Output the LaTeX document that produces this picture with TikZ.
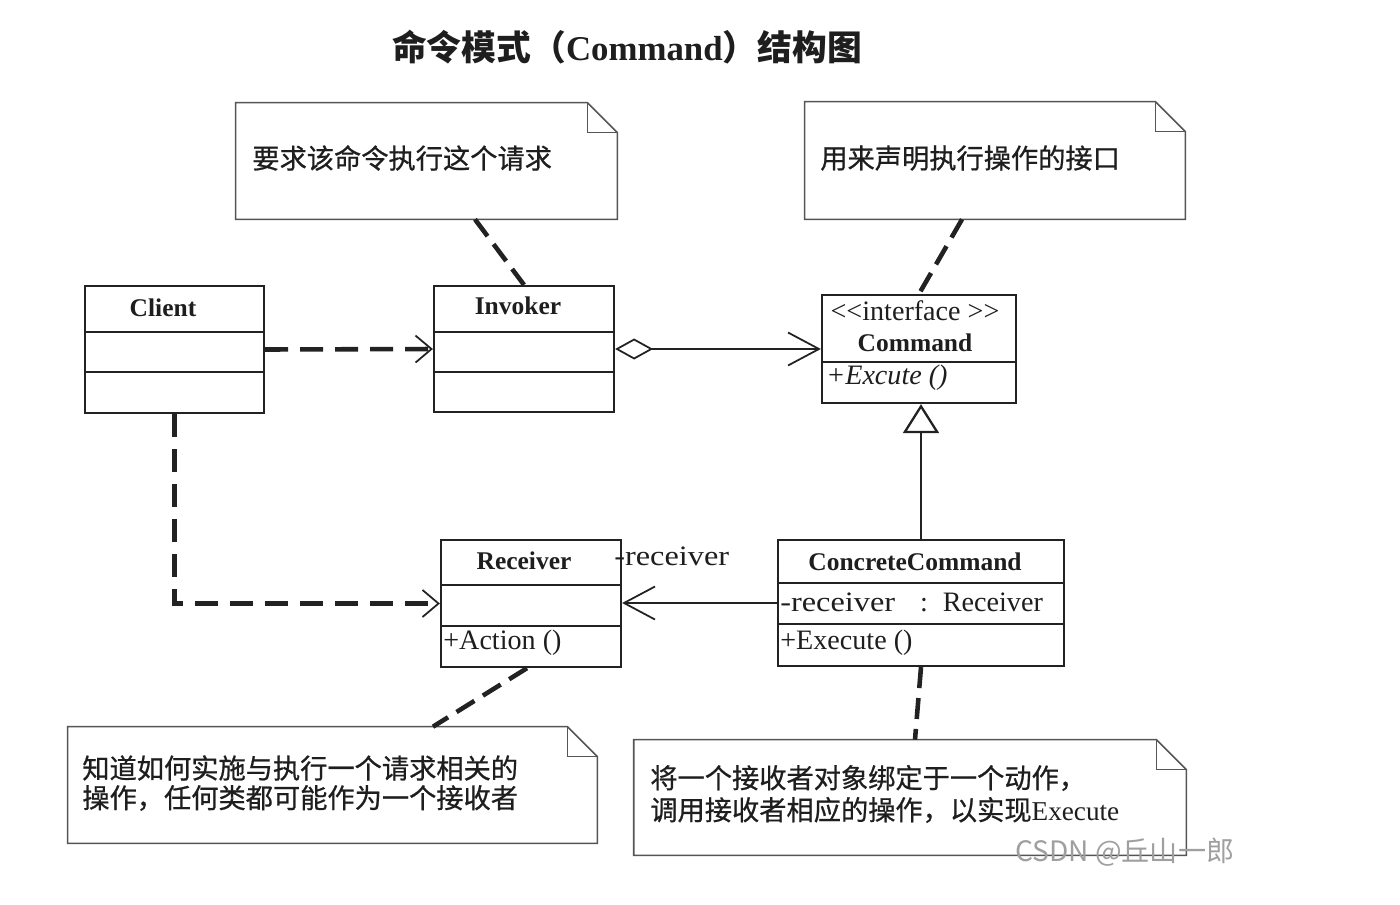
\documentclass[tikz,border=0pt]{standalone}
\usepackage{fontspec}
\setmainfont{Liberation Serif}
\newfontfamily\cjk{Noto Sans CJK SC}
\newfontfamily\cjkn{Noto Sans CJK SC}[FakeBold=0.7]
\usetikzlibrary{arrows.meta,calc}
\definecolor{linec}{HTML}{222222}
\definecolor{notec}{HTML}{555555}
\definecolor{txtc}{HTML}{1E1E1E}
\begin{document}
\begin{tikzpicture}[x=0.02cm,y=-0.02cm,
  cls/.style={draw=linec,line width=1.3pt,inner sep=0pt,fill=white},
  notebox/.style={inner sep=0pt},
  noteline/.style={draw=notec,line width=0.9pt,line join=miter},
  dep/.style={draw=linec,line width=2.6pt,dash pattern=on 0.46cm off 0.24cm},
  ann/.style={draw=linec,line width=2.6pt,dash pattern=on 0.42cm off 0.2cm},
  assoc/.style={draw=linec,line width=1pt},
  divl/.style={draw=linec,line width=1.3pt},
  cname/.style={font=\fontsize{14.5}{16}\selectfont\bfseries,text=txtc,inner sep=0pt},
  member/.style={font=\fontsize{16}{18}\selectfont,text=txtc,inner sep=0pt,anchor=west},
  ntext/.style={font=\fontsize{15.5}{18}\selectfont\cjkn,text=txtc,inner sep=0pt,anchor=west},
  openv/.tip={Straight Barb[length=0.32cm,width=0.54cm,line width=1pt]},
  bigv/.tip={Straight Barb[length=0.62cm,width=0.66cm,line width=1pt]},
  odiam/.tip={Diamond[open,fill=white,length=0.76cm,width=0.42cm,line width=1pt]},
  otri/.tip={Triangle[open,fill=white,length=0.58cm,width=0.72cm,line width=1.3pt]}
]
\useasboundingbox[fill=white] (0,0) rectangle (1400,904);

% title
\node[inner sep=0pt,text=txtc] (title) at (627,47)
  {\fontsize{19.8}{23}\selectfont\bfseries{\cjk 命令模式（}Command{\cjk ）结构图}};

% ---------- notes ----------
\node[notebox,minimum width=7.62cm,minimum height=2.32cm] (n1) at (426.5,161) {};
\node[notebox,minimum width=7.60cm,minimum height=2.34cm] (n2) at (995,160.5) {};
\node[notebox,minimum width=10.58cm,minimum height=2.32cm] (n3) at (332.5,785) {};
\node[notebox,minimum width=11.04cm,minimum height=2.30cm] (n4) at (910,797.5) {};
\foreach \n in {n1,n2,n3,n4}{
  \draw[noteline] (\n.north west) -- ([xshift=-0.6cm]\n.north east)
     -- ([yshift=-0.6cm]\n.north east) -- (\n.south east) -- (\n.south west) -- cycle;
  \draw[noteline] ([xshift=-0.6cm]\n.north east) |- ([yshift=-0.6cm]\n.north east);
}
\node[ntext] (t1) at (252,158) {要求该命令执行这个请求};
\node[ntext] (t2) at (820,158) {用来声明执行操作的接口};
\node[ntext] (t3a) at (82,768) {知道如何实施与执行一个请求相关的};
\node[ntext] (t3b) at (82,798) {操作，任何类都可能作为一个接收者};
\node[ntext] (t4a) at (650,778) {将一个接收者对象绑定于一个动作，};
\node[ntext] (t4b) at (650,810) {调用接收者相应的操作，以实现{\rmfamily Execute}};

% ---------- classes ----------
\node[cls,minimum width=3.58cm,minimum height=2.54cm] (client) at (174.5,349.5) {};
\node[cls,minimum width=3.60cm,minimum height=2.52cm] (invoker) at (524,349) {};
\node[cls,minimum width=3.88cm,minimum height=2.16cm] (command) at (919,349) {};
\node[cls,minimum width=3.60cm,minimum height=2.54cm] (receiver) at (531,603.5) {};
\node[cls,minimum width=5.72cm,minimum height=2.52cm] (cc) at (921,603) {};

% dividers
\coordinate (yc1) at (0,332); \coordinate (yc2) at (0,372);
\draw[divl] (client.west |- yc1) -- (client.east |- yc1);
\draw[divl] (client.west |- yc2) -- (client.east |- yc2);
\draw[divl] (invoker.west |- yc1) -- (invoker.east |- yc1);
\draw[divl] (invoker.west |- yc2) -- (invoker.east |- yc2);
\coordinate (ycm) at (0,362);
\draw[divl] (command.west |- ycm) -- (command.east |- ycm);
\coordinate (yr1) at (0,585); \coordinate (yr2) at (0,626);
\draw[divl] (receiver.west |- yr1) -- (receiver.east |- yr1);
\draw[divl] (receiver.west |- yr2) -- (receiver.east |- yr2);
\coordinate (yk1) at (0,583); \coordinate (yk2) at (0,624);
\draw[divl] (cc.west |- yk1) -- (cc.east |- yk1);
\draw[divl] (cc.west |- yk2) -- (cc.east |- yk2);

% class texts
\node[cname] (clientN) at (163,308) {Client};
\node[cname] (invokerN) at (518,306) {Invoker};
\node[member,anchor=center] (stereo) at (915,311) {<{}<interface >{}>};
\node[cname] (commandN) at (915,343) {Command};
\node[member] (excute) at (826,378) {\itshape +Excute ()};
\node[cname] (receiverN) at (524,561) {Receiver};
\node[member] (action) at (443,643) {+Action ()};
\node[cname] (ccN) at (915,562) {ConcreteCommand};
\node[member] (recvattr) at (780,602) {\scalebox{1.15}[1]{-receiver}\hspace{0.5cm}:\hspace{0.3cm}Receiver};
\node[member] (execute) at (780,643) {+Execute ()};

% ---------- connectors ----------
\draw[dep,-openv] (client.east) -- (invoker.west);
\draw[assoc,odiam-bigv] (invoker.east) -- (command.west);
\draw[dep,-openv] (client.south) |- (receiver.west);
\draw[assoc,-bigv] (cc.west) -- (cc.west -| receiver.east);
\node[member] (rolelbl) at (614,556) {\scalebox{1.15}[1]{-receiver}};
\draw[assoc,line width=1.3pt,-otri] (cc.north) -- (cc.north |- command.south);

\draw[ann] ([xshift=0.97cm]n1.south) -- (invoker.north);
\draw[ann] ([xshift=-0.66cm]n2.south) -- (command.north);
\draw[ann] ([xshift=-0.08cm]receiver.south) -- ([xshift=2.01cm]n3.north);
\draw[ann] (cc.south) -- ([xshift=0.1cm]n4.north);

% watermark
\node[inner sep=0pt,anchor=west,text=gray!75] (wm) at (1015,852)
  {\fontsize{16}{18}\selectfont\cjk CSDN @丘山一郎};
\end{tikzpicture}
\end{document}
